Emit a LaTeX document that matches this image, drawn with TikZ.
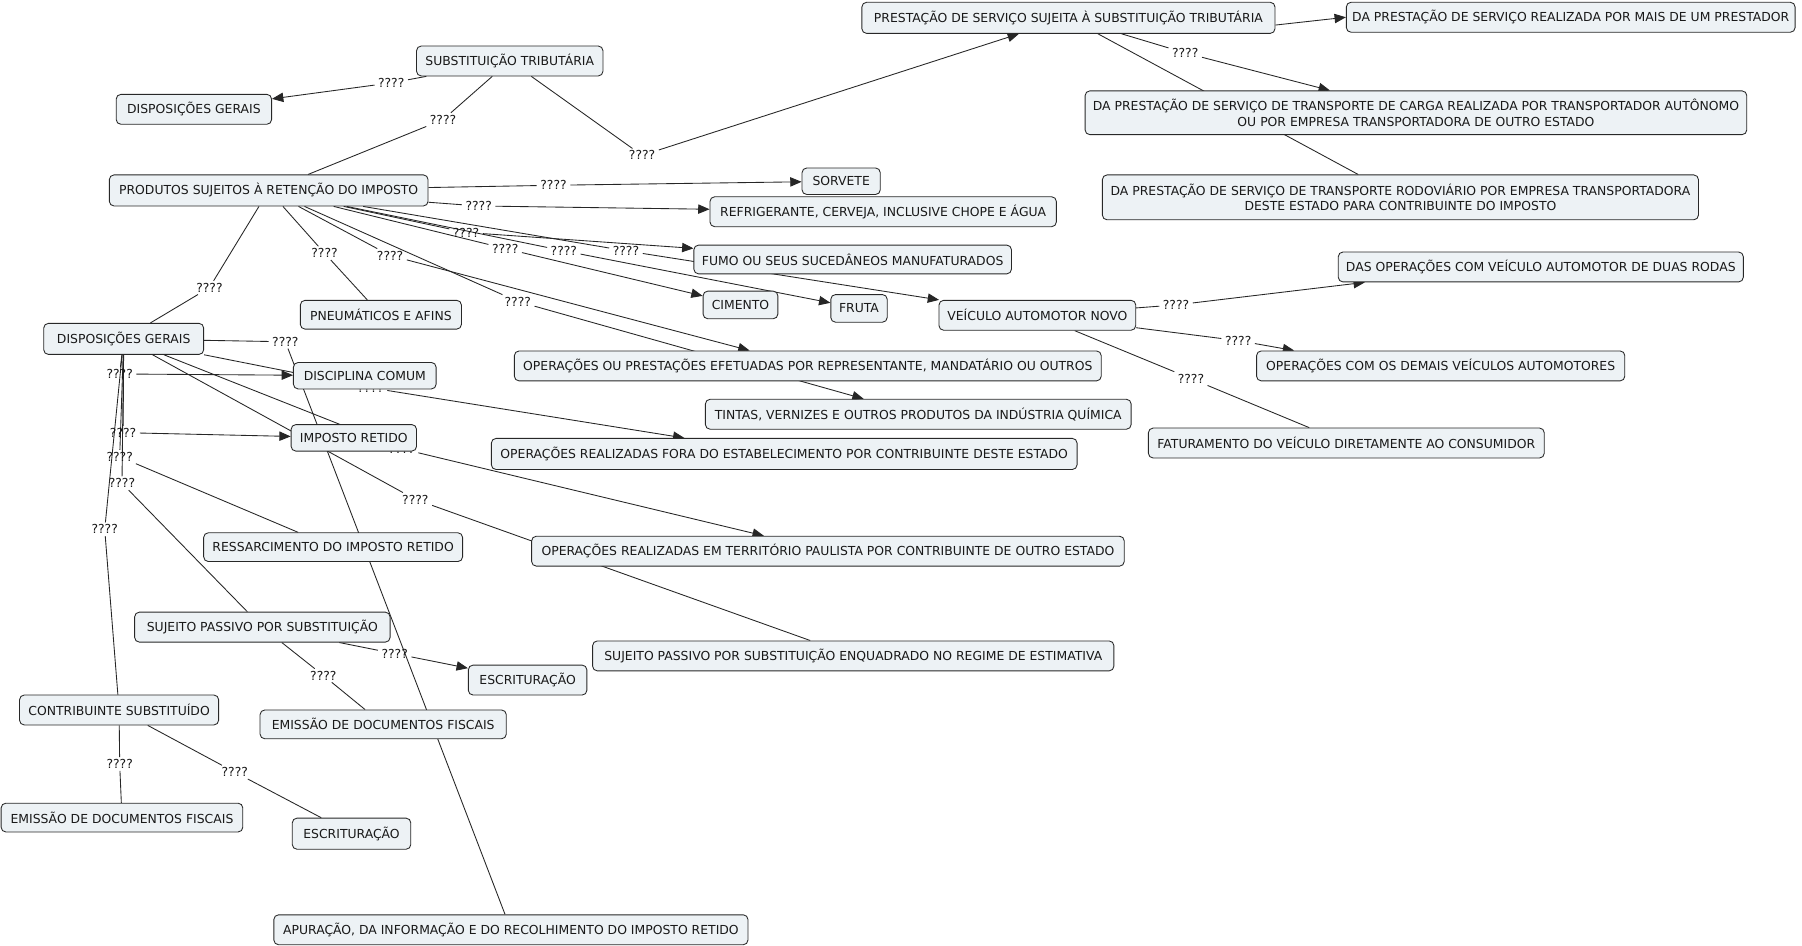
\documentclass[tikz,border=0pt]{standalone}
\usepackage{fontspec}
\setmainfont{DejaVu Sans}
\usetikzlibrary{arrows.meta,backgrounds}
\definecolor{boxfill}{RGB}{237,242,245}
\definecolor{boxline}{RGB}{40,40,40}
\newcommand\bx[6]{\node[cbox,minimum width={(#4-#2)*0.863pt},minimum height={(#5-#3)*0.863pt}] (#1) at ({(#2+#4)/2},{(#3+#5)/2}) {#6};}
\tikzset{
  cbox/.style={draw=boxline,fill=boxfill,rounded corners=3.5pt,inner sep=2pt,align=center,line width=0.65pt,text=black!90,font=\fontsize{9.3}{11.4}\selectfont},
  lbl/.style={inner xsep=2.5pt,inner ysep=1.5pt,text=black!90,font=\fontsize{9.3}{11.4}\selectfont},
  con/.style={draw=black!85,line width=0.65pt},
  arr/.style={con,-{Triangle[length=8.5pt,width=7pt]}}
}
\begin{document}
\begin{tikzpicture}[x=0.863pt,y=-0.863pt]
\useasboundingbox (0,0) rectangle (1566,822);
% labels (drawn first so that boxes cover hidden ones)
\node[lbl] (la) at (340,72) {????};
\node[lbl] (lb) at (385,104) {????};
\node[lbl] (lc) at (558,135) {????};
\node[lbl] (ld) at (1030,46) {????};
\node[lbl] (le) at (481,161) {????};
\node[lbl] (lf) at (416,179) {????};
\node[lbl] (lg) at (405,202) {????};
\node[lbl] (lh) at (439,216) {????};
\node[lbl] (li) at (490,218) {????};
\node[lbl] (lj) at (544,218) {????};
\node[lbl] (lk) at (339,222) {????};
\node[lbl] (ll) at (450,262) {????};
\node[lbl] (lm) at (282,220) {????};
\node[lbl] (ln) at (182,250) {????};
\node[lbl] (lo) at (1022,265) {????};
\node[lbl] (lp) at (1076,296) {????};
\node[lbl] (lq) at (1035,329) {????};
\node[lbl] (lr) at (248,297) {????};
\node[lbl] (ls) at (322,337) {????};
\node[lbl] (lt) at (349,390) {????};
\node[lbl] (lu) at (361,434) {????};
\node[lbl] (lv) at (104,325) {????};
\node[lbl] (lw) at (107,376) {????};
\node[lbl] (lx) at (104,397) {????};
\node[lbl] (ly) at (106,420) {????};
\node[lbl] (lz) at (91,460) {????};
\node[lbl] (laa) at (343,568) {????};
\node[lbl] (lab) at (281,587) {????};
\node[lbl] (lac) at (104,664) {????};
\node[lbl] (lad) at (204,671) {????};
% concept boxes
\bx{n1}{362}{40}{524}{66}{SUBSTITUIÇÃO TRIBUTÁRIA}
\bx{n2}{101}{82}{236}{108}{DISPOSIÇÕES GERAIS}
\bx{n3}{95}{152}{372}{179}{PRODUTOS SUJEITOS À RETENÇÃO DO IMPOSTO}
\bx{n4}{749}{2}{1108}{29}{PRESTAÇÃO DE SERVIÇO SUJEITA À SUBSTITUIÇÃO TRIBUTÁRIA}
\bx{n5}{1170}{2}{1560}{28}{DA PRESTAÇÃO DE SERVIÇO REALIZADA POR MAIS DE UM PRESTADOR}
\bx{n6}{943}{79}{1518}{117}{DA PRESTAÇÃO DE SERVIÇO DE TRANSPORTE DE CARGA REALIZADA POR TRANSPORTADOR AUTÔNOMO\\OU POR EMPRESA TRANSPORTADORA DE OUTRO ESTADO}
\bx{n7}{958}{152}{1476}{191}{DA PRESTAÇÃO DE SERVIÇO DE TRANSPORTE RODOVIÁRIO POR EMPRESA TRANSPORTADORA\\DESTE ESTADO PARA CONTRIBUINTE DO IMPOSTO}
\bx{n8}{697}{146}{765}{169}{SORVETE}
\bx{n9}{617}{171}{918}{197}{REFRIGERANTE, CERVEJA, INCLUSIVE CHOPE E ÁGUA}
\bx{n10}{603}{213}{879}{238}{FUMO OU SEUS SUCEDÂNEOS MANUFATURADOS}
\bx{n11}{611}{253}{676}{277}{CIMENTO}
\bx{n12}{722}{256}{771}{280}{FRUTA}
\bx{n13}{816}{261}{987}{287}{VEÍCULO AUTOMOTOR NOVO}
\bx{n14}{1163}{219}{1515}{245}{DAS OPERAÇÕES COM VEÍCULO AUTOMOTOR DE DUAS RODAS}
\bx{n15}{1092}{305}{1412}{331}{OPERAÇÕES COM OS DEMAIS VEÍCULOS AUTOMOTORES}
\bx{n16}{998}{372}{1342}{398}{FATURAMENTO DO VEÍCULO DIRETAMENTE AO CONSUMIDOR}
\bx{n17}{261}{261}{401}{286}{PNEUMÁTICOS E AFINS}
\bx{n18}{38}{281}{177}{308}{DISPOSIÇÕES GERAIS}
\bx{n19}{255}{315}{379}{338}{DISCIPLINA COMUM}
\bx{n20}{253}{369}{362}{392}{IMPOSTO RETIDO}
\bx{n21}{447}{305}{957}{331}{OPERAÇÕES OU PRESTAÇÕES EFETUADAS POR REPRESENTANTE, MANDATÁRIO OU OUTROS}
\bx{n22}{613}{347}{983}{373}{TINTAS, VERNIZES E OUTROS PRODUTOS DA INDÚSTRIA QUÍMICA}
\bx{n23}{427}{381}{936}{408}{OPERAÇÕES REALIZADAS FORA DO ESTABELECIMENTO POR CONTRIBUINTE DESTE ESTADO}
\bx{n24}{177}{463}{402}{488}{RESSARCIMENTO DO IMPOSTO RETIDO}
\bx{n25}{462}{466}{977}{492}{OPERAÇÕES REALIZADAS EM TERRITÓRIO PAULISTA POR CONTRIBUINTE DE OUTRO ESTADO}
\bx{n26}{117}{532}{339}{558}{SUJEITO PASSIVO POR SUBSTITUIÇÃO}
\bx{n27}{515}{557}{968}{583}{SUJEITO PASSIVO POR SUBSTITUIÇÃO ENQUADRADO NO REGIME DE ESTIMATIVA}
\bx{n28}{407}{578}{510}{604}{ESCRITURAÇÃO}
\bx{n29}{226}{617}{440}{642}{EMISSÃO DE DOCUMENTOS FISCAIS}
\bx{n30}{17}{604}{190}{630}{CONTRIBUINTE SUBSTITUÍDO}
\bx{n31}{1}{698}{211}{723}{EMISSÃO DE DOCUMENTOS FISCAIS}
\bx{n32}{254}{711}{357}{738}{ESCRITURAÇÃO}
\bx{n33}{238}{795}{650}{821}{APURAÇÃO, DA INFORMAÇÃO E DO RECOLHIMENTO DO IMPOSTO RETIDO}
% connectors behind everything
\begin{pgfonlayer}{background}
\fill[white] (0,0) rectangle (1566,822);
\draw[con] (n1) -- (la); \draw[arr] (la) -- (n2);
\draw[con] (n1) -- (lb); \draw[con] (lb) -- (n3);
\draw[con] (n1) -- (lc); \draw[arr] (lc) -- (n4);
\draw[arr] (n4.358) -- (n5.west);
\draw[con] (n4) -- (ld); \draw[arr] (ld) -- (n6);
\draw[con] (n4) -- (n7);
\draw[con] (n3) -- (le); \draw[arr] (le) -- (n8);
\draw[con] (n3) -- (lf); \draw[arr] (lf) -- (n9);
\draw[con] (n3) -- (lg); \draw[arr] (lg) -- (n10);
\draw[con] (n3) -- (lh); \draw[arr] (lh) -- (n11);
\draw[con] (n3) -- (li); \draw[arr] (li) -- (n12);
\draw[con] (n3) -- (lj); \draw[arr] (lj) -- (n13);
\draw[con] (n3) -- (lk); \draw[arr] (lk) -- (n21);
\draw[con] (n3) -- (ll); \draw[arr] (ll) -- (n22);
\draw[con] (n3) -- (lm); \draw[con] (lm) -- (n17);
\draw[con] (n3) -- (ln); \draw[con] (ln) -- (n18);
\draw[con] (n13) -- (lo); \draw[arr] (lo) -- (n14.185);
\draw[con] (n13) -- (lp); \draw[arr] (lp) -- (n15.174);
\draw[con] (n13) -- (lq); \draw[con] (lq) -- (n16);
\draw[con] (n18) -- (lr); \draw[con] (lr) -- (n33);
\draw[con] (n18) -- (ls); \draw[arr] (ls) -- (n23);
\draw[con] (n18) -- (lt); \draw[arr] (lt) -- (n25);
\draw[con] (n18) -- (lu); \draw[con] (lu) -- (n27);
\draw[con] (n18) -- (lv); \draw[arr] (lv) -- (n19);
\draw[con] (n18) -- (lw); \draw[arr] (lw) -- (n20);
\draw[con] (n18) -- (lx); \draw[con] (lx) -- (n24);
\draw[con] (n18) -- (ly); \draw[con] (ly) -- (n26);
\draw[con] (n18) -- (lz); \draw[con] (lz) -- (n30);
\draw[con] (n26) -- (laa); \draw[arr] (laa) -- (n28);
\draw[con] (n26) -- (lab); \draw[con] (lab) -- (n29);
\draw[con] (n30) -- (lac); \draw[con] (lac) -- (n31);
\draw[con] (n30) -- (lad); \draw[con] (lad) -- (n32);
\end{pgfonlayer}
\end{tikzpicture}
\end{document}
